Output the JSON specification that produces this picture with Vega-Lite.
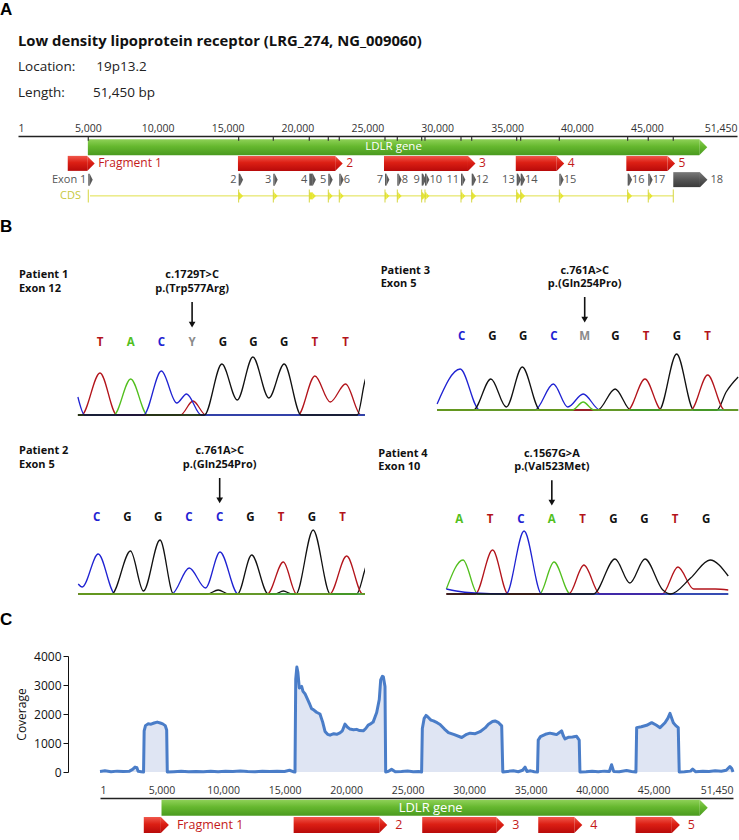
{
"$schema": "https://vega.github.io/schema/vega-lite/v6.json",
"padding": 0,
"background": "white",
"config": {"view": {"stroke": null}, "font": "Open Sans", "axis": {"labelFont": "Open Sans", "titleFont": "Open Sans", "grid": false}, "title": {"anchor": "start", "frame": "group"}},
"title": {"text": "A", "font": "Liberation Sans", "fontSize": 17, "fontWeight": "bold", "color": "#000", "offset": 15, "dx": -18},
"spacing": 12,
"datasets": {
"features": [
{"track":"gene","name":"LDLR gene","start":5000,"end":48750},
{"track":"fragment","name":"Fragment 1","start":3560,"end":4950},
{"track":"fragment","name":"2","start":15740,"end":22700},
{"track":"fragment","name":"3","start":26190,"end":32200},
{"track":"fragment","name":"4","start":35620,"end":38550},
{"track":"fragment","name":"5","start":43530,"end":46480},
{"track":"cds","name":"CDS","start":5150,"end":46890}
],
"exons": [
{"n":"1","label":"Exon 1","start":5030,"end":5130,"side":"L"},
{"n":"2","label":"2","start":15790,"end":15890,"side":"L"},
{"n":"3","label":"3","start":18270,"end":18370,"side":"L"},
{"n":"4","label":"4","start":20845,"end":21100,"side":"L"},
{"n":"5","label":"5","start":22205,"end":22305,"side":"L"},
{"n":"6","label":"6","start":22990,"end":23090,"side":"R"},
{"n":"7","label":"7","start":26262,"end":26362,"side":"L"},
{"n":"8","label":"8","start":27143,"end":27243,"side":"R"},
{"n":"9","label":"9","start":28887,"end":28987,"side":"L"},
{"n":"10","label":"10","start":29123,"end":29223,"side":"R"},
{"n":"11","label":"11","start":31700,"end":31800,"side":"L"},
{"n":"12","label":"12","start":32465,"end":32565,"side":"R"},
{"n":"13","label":"13","start":35685,"end":35785,"side":"L"},
{"n":"14","label":"14","start":35970,"end":36070,"side":"R"},
{"n":"15","label":"15","start":38735,"end":38835,"side":"R"},
{"n":"16","label":"16","start":43625,"end":43725,"side":"R"},
{"n":"17","label":"17","start":45100,"end":45200,"side":"R"},
{"n":"18","label":"18","start":46890,"end":48800,"side":"U"}
],
"coverage": [
{"pos":1,"cov":20},{"pos":400,"cov":40},{"pos":900,"cov":10},{"pos":1400,"cov":30},{"pos":1900,"cov":15},{"pos":2400,"cov":30},{"pos":2650,"cov":90},{"pos":2850,"cov":170},{"pos":3000,"cov":150},{"pos":3100,"cov":25},{"pos":3350,"cov":10},{"pos":3540,"cov":0},{"pos":3590,"cov":1420},{"pos":3700,"cov":1600},{"pos":3900,"cov":1660},{"pos":4150,"cov":1650},{"pos":4400,"cov":1690},{"pos":4650,"cov":1720},{"pos":4900,"cov":1690},{"pos":5100,"cov":1660},{"pos":5300,"cov":1600},{"pos":5420,"cov":1450},{"pos":5470,"cov":0},
{"pos":6000,"cov":10},{"pos":6600,"cov":25},{"pos":7200,"cov":5},{"pos":7800,"cov":20},{"pos":8400,"cov":10},{"pos":9000,"cov":30},{"pos":9600,"cov":10},{"pos":10200,"cov":25},{"pos":10800,"cov":15},{"pos":11400,"cov":35},{"pos":12000,"cov":15},{"pos":12600,"cov":10},{"pos":13200,"cov":25},{"pos":13800,"cov":15},{"pos":14400,"cov":30},{"pos":15000,"cov":20},{"pos":15400,"cov":60},{"pos":15700,"cov":10},{"pos":15850,"cov":0},
{"pos":15910,"cov":3200},{"pos":16000,"cov":3620},{"pos":16080,"cov":3450},{"pos":16200,"cov":2900},{"pos":16390,"cov":2950},{"pos":16500,"cov":2780},{"pos":16660,"cov":2700},{"pos":16900,"cov":2480},{"pos":17065,"cov":2320},{"pos":17200,"cov":2180},{"pos":17340,"cov":2150},{"pos":17600,"cov":2060},{"pos":17880,"cov":2000},{"pos":18100,"cov":1720},{"pos":18290,"cov":1400},{"pos":18500,"cov":1300},{"pos":18700,"cov":1270},{"pos":19000,"cov":1320},{"pos":19240,"cov":1300},{"pos":19500,"cov":1350},{"pos":19700,"cov":1420},{"pos":19915,"cov":1650},{"pos":20100,"cov":1550},{"pos":20320,"cov":1480},{"pos":20600,"cov":1460},{"pos":20860,"cov":1470},{"pos":21100,"cov":1430},{"pos":21400,"cov":1420},{"pos":21600,"cov":1500},{"pos":21800,"cov":1620},{"pos":21950,"cov":1650},{"pos":22200,"cov":1720},{"pos":22490,"cov":2050},{"pos":22700,"cov":2500},{"pos":22815,"cov":3180},{"pos":22950,"cov":3300},{"pos":23030,"cov":3280},{"pos":23165,"cov":2950},{"pos":23220,"cov":0},
{"pos":23450,"cov":25},{"pos":23700,"cov":90},{"pos":24000,"cov":10},{"pos":24500,"cov":20},{"pos":25000,"cov":35},{"pos":25460,"cov":10},{"pos":25900,"cov":20},{"pos":26140,"cov":0},
{"pos":26200,"cov":1500},{"pos":26350,"cov":1850},{"pos":26500,"cov":1950},{"pos":26690,"cov":1880},{"pos":26900,"cov":1790},{"pos":27100,"cov":1760},{"pos":27400,"cov":1700},{"pos":27640,"cov":1640},{"pos":28000,"cov":1480},{"pos":28320,"cov":1360},{"pos":28800,"cov":1290},{"pos":29400,"cov":1190},{"pos":29800,"cov":1300},{"pos":30080,"cov":1340},{"pos":30500,"cov":1320},{"pos":30890,"cov":1390},{"pos":31300,"cov":1520},{"pos":31570,"cov":1650},{"pos":31900,"cov":1740},{"pos":32110,"cov":1760},{"pos":32400,"cov":1700},{"pos":32650,"cov":1590},{"pos":32740,"cov":0},
{"pos":33100,"cov":20},{"pos":33600,"cov":40},{"pos":34000,"cov":10},{"pos":34350,"cov":60},{"pos":34550,"cov":170},{"pos":34700,"cov":20},{"pos":35000,"cov":40},{"pos":35300,"cov":10},{"pos":35560,"cov":0},
{"pos":35620,"cov":1100},{"pos":35800,"cov":1220},{"pos":36200,"cov":1300},{"pos":36570,"cov":1340},{"pos":36900,"cov":1310},{"pos":37110,"cov":1290},{"pos":37400,"cov":1380},{"pos":37520,"cov":1420},{"pos":37650,"cov":1260},{"pos":37790,"cov":1140},{"pos":38100,"cov":1200},{"pos":38400,"cov":1210},{"pos":38740,"cov":1230},{"pos":38950,"cov":1100},{"pos":39010,"cov":0},
{"pos":39500,"cov":10},{"pos":40000,"cov":25},{"pos":40500,"cov":5},{"pos":41000,"cov":30},{"pos":41400,"cov":20},{"pos":41580,"cov":250},{"pos":41750,"cov":20},{"pos":42200,"cov":10},{"pos":42800,"cov":50},{"pos":43200,"cov":20},{"pos":43560,"cov":0},
{"pos":43620,"cov":1530},{"pos":44000,"cov":1560},{"pos":44430,"cov":1610},{"pos":44840,"cov":1700},{"pos":45200,"cov":1620},{"pos":45520,"cov":1530},{"pos":45920,"cov":1700},{"pos":46150,"cov":1850},{"pos":46330,"cov":2020},{"pos":46600,"cov":1700},{"pos":46800,"cov":1600},{"pos":47000,"cov":1530},{"pos":47080,"cov":0},
{"pos":47500,"cov":10},{"pos":48000,"cov":30},{"pos":48170,"cov":100},{"pos":48400,"cov":10},{"pos":49000,"cov":30},{"pos":49500,"cov":15},{"pos":50000,"cov":40},{"pos":50500,"cov":25},{"pos":50900,"cov":60},{"pos":51200,"cov":190},{"pos":51350,"cov":120},{"pos":51450,"cov":0}
],
"traces": [
{"p":"P1","b":"T","x":-0.72,"v":0},{"p":"P1","b":"T","x":-0.6,"v":0},{"p":"P1","b":"T","x":0,"v":420},{"p":"P1","b":"T","x":0.55,"v":0},{"p":"P1","b":"T","x":2.62,"v":0},{"p":"P1","b":"T","x":3.03,"v":140},{"p":"P1","b":"T","x":3.45,"v":0},{"p":"P1","b":"T","x":6.45,"v":0},{"p":"P1","b":"T","x":7,"v":390},{"p":"P1","b":"T","x":7.5,"v":130},{"p":"P1","b":"T","x":8,"v":310},{"p":"P1","b":"T","x":8.5,"v":0},{"p":"P1","b":"T","x":8.63,"v":0},
{"p":"P1","b":"A","x":-0.72,"v":0},{"p":"P1","b":"A","x":0.45,"v":0},{"p":"P1","b":"A","x":1,"v":360},{"p":"P1","b":"A","x":1.55,"v":0},{"p":"P1","b":"A","x":8.63,"v":0},
{"p":"P1","b":"C","x":-0.72,"v":180},{"p":"P1","b":"C","x":-0.5,"v":0},{"p":"P1","b":"C","x":1.42,"v":0},{"p":"P1","b":"C","x":2,"v":440},{"p":"P1","b":"C","x":2.5,"v":120},{"p":"P1","b":"C","x":2.82,"v":210},{"p":"P1","b":"C","x":3.3,"v":0},{"p":"P1","b":"C","x":8.63,"v":0},
{"p":"P1","b":"G","x":-0.72,"v":0},{"p":"P1","b":"G","x":3.4,"v":0},{"p":"P1","b":"G","x":3.97,"v":510},{"p":"P1","b":"G","x":4.47,"v":150},{"p":"P1","b":"G","x":4.98,"v":580},{"p":"P1","b":"G","x":5.5,"v":170},{"p":"P1","b":"G","x":6,"v":510},{"p":"P1","b":"G","x":6.55,"v":0},{"p":"P1","b":"G","x":8.38,"v":0},{"p":"P1","b":"G","x":8.63,"v":340},{"p":"P1","b":"G","x":8.8,"v":480},
{"p":"P3","b":"C","x":-0.8,"v":60},{"p":"P3","b":"C","x":-0.05,"v":410},{"p":"P3","b":"C","x":0.58,"v":0},{"p":"P3","b":"C","x":2.38,"v":0},{"p":"P3","b":"C","x":2.98,"v":260},{"p":"P3","b":"C","x":3.45,"v":30},{"p":"P3","b":"C","x":3.95,"v":160},{"p":"P3","b":"C","x":4.5,"v":0},{"p":"P3","b":"C","x":8.99,"v":0},
{"p":"P3","b":"G","x":-0.8,"v":0},{"p":"P3","b":"G","x":0.38,"v":0},{"p":"P3","b":"G","x":0.95,"v":310},{"p":"P3","b":"G","x":1.45,"v":30},{"p":"P3","b":"G","x":1.97,"v":430},{"p":"P3","b":"G","x":2.55,"v":0},{"p":"P3","b":"G","x":4.42,"v":0},{"p":"P3","b":"G","x":4.99,"v":210},{"p":"P3","b":"G","x":5.5,"v":0},{"p":"P3","b":"G","x":6.42,"v":0},{"p":"P3","b":"G","x":6.99,"v":560},{"p":"P3","b":"G","x":7.55,"v":0},{"p":"P3","b":"G","x":8.3,"v":0},{"p":"P3","b":"G","x":8.6,"v":180},{"p":"P3","b":"G","x":8.99,"v":330},
{"p":"P3","b":"T","x":-0.8,"v":0},{"p":"P3","b":"T","x":5.4,"v":0},{"p":"P3","b":"T","x":5.96,"v":310},{"p":"P3","b":"T","x":6.5,"v":0},{"p":"P3","b":"T","x":7.45,"v":0},{"p":"P3","b":"T","x":8,"v":350},{"p":"P3","b":"T","x":8.55,"v":0},{"p":"P3","b":"T","x":8.99,"v":0},
{"p":"P3","b":"A","x":-0.8,"v":0},{"p":"P3","b":"A","x":3.6,"v":0},{"p":"P3","b":"A","x":3.95,"v":80},{"p":"P3","b":"A","x":4.3,"v":0},{"p":"P3","b":"A","x":8.99,"v":0},
{"p":"P2","b":"C","x":-0.6,"v":100},{"p":"P2","b":"C","x":-0.47,"v":70},{"p":"P2","b":"C","x":0.05,"v":400},{"p":"P2","b":"C","x":0.6,"v":0},{"p":"P2","b":"C","x":2.44,"v":0},{"p":"P2","b":"C","x":3.01,"v":260},{"p":"P2","b":"C","x":3.54,"v":60},{"p":"P2","b":"C","x":4.01,"v":420},{"p":"P2","b":"C","x":4.6,"v":0},{"p":"P2","b":"C","x":8.73,"v":0},
{"p":"P2","b":"G","x":-0.6,"v":0},{"p":"P2","b":"G","x":0.49,"v":0},{"p":"P2","b":"G","x":1.1,"v":430},{"p":"P2","b":"G","x":1.52,"v":30},{"p":"P2","b":"G","x":2.06,"v":540},{"p":"P2","b":"G","x":2.5,"v":0},{"p":"P2","b":"G","x":3.6,"v":0},{"p":"P2","b":"G","x":3.95,"v":40},{"p":"P2","b":"G","x":4.3,"v":0},{"p":"P2","b":"G","x":4.58,"v":0},{"p":"P2","b":"G","x":5.04,"v":390},{"p":"P2","b":"G","x":5.58,"v":0},{"p":"P2","b":"G","x":5.8,"v":0},{"p":"P2","b":"G","x":6.07,"v":30},{"p":"P2","b":"G","x":6.35,"v":0},{"p":"P2","b":"G","x":6.48,"v":0},{"p":"P2","b":"G","x":7.04,"v":640},{"p":"P2","b":"G","x":7.6,"v":0},{"p":"P2","b":"G","x":8.45,"v":0},{"p":"P2","b":"G","x":8.73,"v":250},{"p":"P2","b":"G","x":8.9,"v":420},
{"p":"P2","b":"T","x":-0.6,"v":0},{"p":"P2","b":"T","x":5.55,"v":0},{"p":"P2","b":"T","x":6.07,"v":320},{"p":"P2","b":"T","x":6.5,"v":0},{"p":"P2","b":"T","x":7.58,"v":0},{"p":"P2","b":"T","x":8.13,"v":380},{"p":"P2","b":"T","x":8.65,"v":0},{"p":"P2","b":"T","x":8.73,"v":0},
{"p":"P2","b":"A","x":-0.6,"v":0},{"p":"P2","b":"A","x":8.73,"v":0},
{"p":"P4","b":"A","x":-0.42,"v":50},{"p":"P4","b":"A","x":0.12,"v":340},{"p":"P4","b":"A","x":0.6,"v":0},{"p":"P4","b":"A","x":2.6,"v":0},{"p":"P4","b":"A","x":3.07,"v":320},{"p":"P4","b":"A","x":3.6,"v":0},{"p":"P4","b":"A","x":8.72,"v":0},
{"p":"P4","b":"T","x":-0.42,"v":0},{"p":"P4","b":"T","x":0.52,"v":0},{"p":"P4","b":"T","x":1.08,"v":440},{"p":"P4","b":"T","x":1.58,"v":0},{"p":"P4","b":"T","x":3.55,"v":0},{"p":"P4","b":"T","x":4.04,"v":290},{"p":"P4","b":"T","x":4.56,"v":0},{"p":"P4","b":"T","x":6.58,"v":0},{"p":"P4","b":"T","x":7.09,"v":270},{"p":"P4","b":"T","x":7.6,"v":50},{"p":"P4","b":"T","x":8.3,"v":50},{"p":"P4","b":"T","x":8.72,"v":40},
{"p":"P4","b":"C","x":-0.42,"v":50},{"p":"P4","b":"C","x":-0.1,"v":30},{"p":"P4","b":"C","x":0.5,"v":10},{"p":"P4","b":"C","x":1.52,"v":0},{"p":"P4","b":"C","x":2.1,"v":630},{"p":"P4","b":"C","x":2.67,"v":0},{"p":"P4","b":"C","x":8.72,"v":0},
{"p":"P4","b":"G","x":-0.42,"v":0},{"p":"P4","b":"G","x":4.35,"v":0},{"p":"P4","b":"G","x":5.05,"v":350},{"p":"P4","b":"G","x":5.53,"v":110},{"p":"P4","b":"G","x":6.02,"v":350},{"p":"P4","b":"G","x":6.6,"v":40},{"p":"P4","b":"G","x":6.85,"v":0},{"p":"P4","b":"G","x":7.5,"v":160},{"p":"P4","b":"G","x":8.13,"v":340},{"p":"P4","b":"G","x":8.72,"v":180}
],
"calls": [
{"p":"P1","i":0,"b":"T"},{"p":"P1","i":1,"b":"A"},{"p":"P1","i":2,"b":"C"},{"p":"P1","i":3,"b":"Y"},{"p":"P1","i":4,"b":"G"},{"p":"P1","i":5,"b":"G"},{"p":"P1","i":6,"b":"G"},{"p":"P1","i":7,"b":"T"},{"p":"P1","i":8,"b":"T"},
{"p":"P3","i":0,"b":"C"},{"p":"P3","i":1,"b":"G"},{"p":"P3","i":2,"b":"G"},{"p":"P3","i":3,"b":"C"},{"p":"P3","i":4,"b":"M"},{"p":"P3","i":5,"b":"G"},{"p":"P3","i":6,"b":"T"},{"p":"P3","i":7,"b":"G"},{"p":"P3","i":8,"b":"T"},
{"p":"P2","i":0,"b":"C"},{"p":"P2","i":1,"b":"G"},{"p":"P2","i":2,"b":"G"},{"p":"P2","i":3,"b":"C"},{"p":"P2","i":4,"b":"C"},{"p":"P2","i":5,"b":"G"},{"p":"P2","i":6,"b":"T"},{"p":"P2","i":7,"b":"G"},{"p":"P2","i":8,"b":"T"},
{"p":"P4","i":0,"b":"A"},{"p":"P4","i":1,"b":"T"},{"p":"P4","i":2,"b":"C"},{"p":"P4","i":3,"b":"A"},{"p":"P4","i":4,"b":"T"},{"p":"P4","i":5,"b":"G"},{"p":"P4","i":6,"b":"G"},{"p":"P4","i":7,"b":"T"},{"p":"P4","i":8,"b":"G"}
],
"notes": [
{"p":"P1","who":"Patient 1\nExon 12","change":"c.1729T>C\np.(Trp577Arg)","at":3},
{"p":"P3","who":"Patient 3\nExon 5","change":"c.761A>C\np.(Gln254Pro)","at":4},
{"p":"P2","who":"Patient 2\nExon 5","change":"c.761A>C\np.(Gln254Pro)","at":4},
{"p":"P4","who":"Patient 4\nExon 10","change":"c.1567G>A\np.(Val523Met)","at":3}
]
},
"vconcat": [
{
"width": 719, "height": 70,
"title": {"text": "Low density lipoprotein receptor (LRG_274, NG_009060)", "subtitle": ["Location:\u00a0\u00a0\u00a0\u00a0\u00a0\u00a019p13.2", "Length:\u00a0\u00a0\u00a0\u00a0\u00a0\u00a0\u00a0\u00a051,450 bp"], "font": "Open Sans", "fontSize": 14.8, "fontWeight": "bold", "color": "#111", "subtitleFont": "Open Sans", "subtitleFontSize": 13.5, "subtitleColor": "#222", "subtitleLineHeight": 26, "subtitlePadding": 11, "offset": 24},
"layer": [
{"data": {"name": "features"}, "transform": [{"filter": "datum.track == 'gene'"}],
 "mark": {"type": "bar", "size": 16, "color": {"gradient": "linear", "x1": 0, "y1": 0, "x2": 0, "y2": 1, "stops": [{"offset": 0, "color": "#8fd158"}, {"offset": 0.45, "color": "#66b82f"}, {"offset": 1, "color": "#4a9a1f"}]}},
 "encoding": {
  "x": {"field": "start", "type": "quantitative", "scale": {"domain": [1, 51450], "nice": false, "zero": false}, "axis": {"orient": "top", "values": [1,5000,10000,15000,20000,25000,30000,35000,40000,45000,51450], "format": ",d", "labelFlush": true, "ticks": false, "domainColor": "#222", "domainWidth": 1.3, "labelFontSize": 10.5, "labelColor": "#333", "labelPadding": 3, "title": null, "labelOverlap": false}},
  "x2": {"field": "end"},
  "y": {"field": "track", "type": "nominal", "scale": {"type": "band", "domain": ["gene","fragment","exon","cds"], "range": [3, 68], "paddingInner": 0, "paddingOuter": 0}, "axis": null}
 }},
{"data": {"name": "features"}, "transform": [{"filter": "datum.track == 'gene'"}],
 "mark": {"type": "point", "shape": "M0,-1L1,0L0,1Z", "size": 256, "filled": true, "opacity": 1, "strokeWidth": 0, "color": {"gradient": "linear", "x1": 0, "y1": 0, "x2": 0, "y2": 1, "stops": [{"offset": 0, "color": "#8fd158"}, {"offset": 0.45, "color": "#66b82f"}, {"offset": 1, "color": "#4a9a1f"}]}},
 "encoding": {"x": {"field": "end", "type": "quantitative"}, "y": {"field": "track", "type": "nominal"}}},
{"data": {"name": "features"}, "transform": [{"filter": "datum.track == 'gene'"}, {"calculate": "(datum.start + datum.end) / 2", "as": "mid"}],
 "mark": {"type": "text", "color": "white", "fontSize": 11.5},
 "encoding": {"x": {"field": "mid", "type": "quantitative"}, "y": {"field": "track", "type": "nominal"}, "text": {"field": "name"}}},
{"data": {"name": "exons"},
 "mark": {"type": "tick", "orient": "vertical", "size": 4, "thickness": 1.2, "color": "#333333", "opacity": 1, "yOffset": -8.5},
 "encoding": {"x": {"field": "start", "type": "quantitative"}, "y": {"datum": "gene", "type": "nominal"}}},
{"data": {"name": "features"}, "transform": [{"filter": "datum.track == 'fragment'"}],
 "mark": {"type": "bar", "size": 15, "color": {"gradient": "linear", "x1": 0, "y1": 0, "x2": 0, "y2": 1, "stops": [{"offset": 0, "color": "#f0584c"}, {"offset": 0.45, "color": "#dc1f14"}, {"offset": 1, "color": "#b80a0a"}]}},
 "encoding": {"x": {"field": "start", "type": "quantitative"}, "x2": {"field": "end"}, "y": {"field": "track", "type": "nominal"}}},
{"data": {"name": "features"}, "transform": [{"filter": "datum.track == 'fragment'"}],
 "mark": {"type": "point", "shape": "M0,-1L1,0L0,1Z", "size": 225, "filled": true, "opacity": 1, "strokeWidth": 0, "color": {"gradient": "linear", "x1": 0, "y1": 0, "x2": 0, "y2": 1, "stops": [{"offset": 0, "color": "#f0584c"}, {"offset": 0.45, "color": "#dc1f14"}, {"offset": 1, "color": "#b80a0a"}]}},
 "encoding": {"x": {"field": "end", "type": "quantitative"}, "y": {"field": "track", "type": "nominal"}}},
{"data": {"name": "features"}, "transform": [{"filter": "datum.track == 'fragment'"}],
 "mark": {"type": "text", "align": "left", "dx": 11, "color": "#c41a1a", "fontSize": 12},
 "encoding": {"x": {"field": "end", "type": "quantitative"}, "y": {"field": "track", "type": "nominal"}, "text": {"field": "name"}}},
{"data": {"name": "features"}, "transform": [{"filter": "datum.track == 'cds'"}],
 "mark": {"type": "rule", "color": "#e0e048", "strokeWidth": 1},
 "encoding": {"x": {"field": "start", "type": "quantitative"}, "x2": {"field": "end"}, "y": {"field": "track", "type": "nominal"}}},
{"data": {"name": "features"}, "transform": [{"filter": "datum.track == 'cds'"}],
 "mark": {"type": "text", "align": "right", "dx": -9, "color": "#c8c83c", "fontSize": 11},
 "encoding": {"x": {"field": "start", "type": "quantitative"}, "y": {"field": "track", "type": "nominal"}, "text": {"field": "name"}}},
{"data": {"name": "exons"}, "transform": [{"filter": "datum.n != '1' && datum.n != '18'"}],
 "mark": {"type": "bar", "size": 7, "color": "#e6e630"},
 "encoding": {"x": {"field": "start", "type": "quantitative"}, "x2": {"field": "end"}, "y": {"datum": "cds", "type": "nominal"}}},
{"data": {"name": "exons"}, "transform": [{"filter": "datum.n != '1' && datum.n != '18'"}],
 "mark": {"type": "point", "shape": "M0,-1L1,0L0,1Z", "size": 36, "filled": true, "opacity": 1, "strokeWidth": 0, "color": "#e6e630"},
 "encoding": {"x": {"field": "end", "type": "quantitative"}, "y": {"datum": "cds", "type": "nominal"}}},
{"data": {"name": "exons"},
 "mark": {"type": "tick", "orient": "vertical", "size": 13, "thickness": 1, "color": "#d6d640", "opacity": 1},
 "encoding": {"x": {"field": "start", "type": "quantitative"}, "y": {"datum": "cds", "type": "nominal"}}},
{"data": {"name": "exons"}, "transform": [{"filter": "datum.side != 'U'"}],
 "mark": {"type": "bar", "size": 12, "color": "#5c5c5c"},
 "encoding": {"x": {"field": "start", "type": "quantitative"}, "x2": {"field": "end"}, "y": {"datum": "exon", "type": "nominal"}}},
{"data": {"name": "exons"}, "transform": [{"filter": "datum.side != 'U'"}],
 "mark": {"type": "point", "shape": "M0,-1L0.5,0L0,1Z", "size": 144, "filled": true, "opacity": 1, "strokeWidth": 0, "color": "#5c5c5c"},
 "encoding": {"x": {"field": "end", "type": "quantitative"}, "y": {"datum": "exon", "type": "nominal"}}},
{"data": {"name": "exons"}, "transform": [{"filter": "datum.side == 'U'"}],
 "mark": {"type": "bar", "size": 15, "color": {"gradient": "linear", "x1": 0, "y1": 0, "x2": 0, "y2": 1, "stops": [{"offset": 0, "color": "#7a7a7a"}, {"offset": 0.5, "color": "#555555"}, {"offset": 1, "color": "#3a3a3a"}]}},
 "encoding": {"x": {"field": "start", "type": "quantitative"}, "x2": {"field": "end"}, "y": {"datum": "exon", "type": "nominal"}}},
{"data": {"name": "exons"}, "transform": [{"filter": "datum.side == 'U'"}],
 "mark": {"type": "point", "shape": "M0,-1L1,0L0,1Z", "size": 225, "filled": true, "opacity": 1, "strokeWidth": 0, "color": {"gradient": "linear", "x1": 0, "y1": 0, "x2": 0, "y2": 1, "stops": [{"offset": 0, "color": "#7a7a7a"}, {"offset": 0.5, "color": "#555555"}, {"offset": 1, "color": "#3a3a3a"}]}},
 "encoding": {"x": {"field": "end", "type": "quantitative"}, "y": {"datum": "exon", "type": "nominal"}}},
{"data": {"name": "exons"}, "transform": [{"filter": "datum.side == 'L'"}],
 "mark": {"type": "text", "align": "right", "dx": -2, "color": "#555555", "fontSize": 11},
 "encoding": {"x": {"field": "start", "type": "quantitative"}, "y": {"datum": "exon", "type": "nominal"}, "text": {"field": "label"}}},
{"data": {"name": "exons"}, "transform": [{"filter": "datum.side == 'R'"}],
 "mark": {"type": "text", "align": "left", "dx": 3, "color": "#555555", "fontSize": 11},
 "encoding": {"x": {"field": "end", "type": "quantitative"}, "y": {"datum": "exon", "type": "nominal"}, "text": {"field": "label"}}},
{"data": {"name": "exons"}, "transform": [{"filter": "datum.side == 'U'"}],
 "mark": {"type": "text", "align": "left", "dx": 10.5, "color": "#555555", "fontSize": 11},
 "encoding": {"x": {"field": "end", "type": "quantitative"}, "y": {"datum": "exon", "type": "nominal"}, "text": {"field": "label"}}}
]
},
{
"title": {"text": "B", "font": "Liberation Sans", "fontSize": 17, "fontWeight": "bold", "color": "#000", "offset": 28, "dx": -18},
"spacing": 25,
"vconcat": [
{"spacing": 0, "hconcat": [
{"width": 347, "height": 153,
 "layer": [
  {"data": {"name": "traces"}, "transform": [{"filter": "datum.p == 'P1'"}],
   "mark": {"type": "line", "interpolate": "monotone", "strokeWidth": 1.3, "clip": true},
   "encoding": {"x": {"field": "x", "type": "quantitative", "scale": {"domain": [-2.671, 8.632], "nice": false, "zero": false}, "axis": null},
    "y": {"field": "v", "type": "quantitative", "scale": {"domain": [-20, 1510], "nice": false, "zero": false}, "axis": null},
    "color": {"field": "b", "type": "nominal", "scale": {"domain": ["A","C","G","T","Y","M"], "range": ["#52bf1e","#1f22d2","#111111","#b3141b","#8a8a8a","#8a8a8a"]}, "legend": null}}},
  {"data": {"name": "calls"}, "transform": [{"filter": "datum.p == 'P1'"}],
   "mark": {"type": "text", "fontWeight": "bold", "fontSize": 11.5},
   "encoding": {"x": {"field": "i", "type": "quantitative"}, "y": {"datum": 723}, "text": {"field": "b"}, "color": {"field": "b", "type": "nominal"}}},
  {"data": {"name": "notes"}, "transform": [{"filter": "datum.p == 'P1'"}],
   "mark": {"type": "text", "fontWeight": "bold", "fontSize": 11, "align": "left", "baseline": "middle", "lineBreak": "\n", "lineHeight": 13.4, "color": "#111"},
   "encoding": {"x": {"datum": -2.64}, "y": {"datum": 1397}, "text": {"field": "who"}}},
  {"data": {"name": "notes"}, "transform": [{"filter": "datum.p == 'P1'"}],
   "mark": {"type": "text", "fontWeight": "bold", "fontSize": 11, "align": "center", "baseline": "middle", "lineBreak": "\n", "lineHeight": 13.4, "color": "#111"},
   "encoding": {"x": {"field": "at", "type": "quantitative"}, "y": {"datum": 1397}, "text": {"field": "change"}}},
  {"data": {"name": "notes"}, "transform": [{"filter": "datum.p == 'P1'"}],
   "mark": {"type": "rule", "strokeWidth": 1.6, "color": "#111"},
   "encoding": {"x": {"field": "at", "type": "quantitative"}, "y": {"datum": 1130}, "y2": {"datum": 904}}},
  {"data": {"name": "notes"}, "transform": [{"filter": "datum.p == 'P1'"}],
   "mark": {"type": "point", "shape": "triangle-down", "size": 45, "filled": true, "opacity": 1, "color": "#111"},
   "encoding": {"x": {"field": "at", "type": "quantitative"}, "y": {"datum": 904}}}
 ]},
{"width": 374, "height": 153,
 "layer": [
  {"data": {"name": "traces"}, "transform": [{"filter": "datum.p == 'P3'"}],
   "mark": {"type": "line", "interpolate": "monotone", "strokeWidth": 1.3, "clip": true},
   "encoding": {"x": {"field": "x", "type": "quantitative", "scale": {"domain": [-3.145, 9.018], "nice": false, "zero": false}, "axis": null},
    "y": {"field": "v", "type": "quantitative", "scale": {"domain": [-70, 1460], "nice": false, "zero": false}, "axis": null},
    "color": {"field": "b", "type": "nominal", "scale": {"domain": ["A","C","G","T","Y","M"], "range": ["#52bf1e","#1f22d2","#111111","#b3141b","#8a8a8a","#8a8a8a"]}, "legend": null}}},
  {"data": {"name": "calls"}, "transform": [{"filter": "datum.p == 'P3'"}],
   "mark": {"type": "text", "fontWeight": "bold", "fontSize": 11.5},
   "encoding": {"x": {"field": "i", "type": "quantitative"}, "y": {"datum": 730}, "text": {"field": "b"}, "color": {"field": "b", "type": "nominal"}}},
  {"data": {"name": "notes"}, "transform": [{"filter": "datum.p == 'P3'"}],
   "mark": {"type": "text", "fontWeight": "bold", "fontSize": 11, "align": "left", "baseline": "middle", "lineBreak": "\n", "lineHeight": 13.4, "color": "#111"},
   "encoding": {"x": {"datum": -2.634}, "y": {"datum": 1390}, "text": {"field": "who"}}},
  {"data": {"name": "notes"}, "transform": [{"filter": "datum.p == 'P3'"}],
   "mark": {"type": "text", "fontWeight": "bold", "fontSize": 11, "align": "center", "baseline": "middle", "lineBreak": "\n", "lineHeight": 13.4, "color": "#111"},
   "encoding": {"x": {"field": "at", "type": "quantitative"}, "y": {"datum": 1390}, "text": {"field": "change"}}},
  {"data": {"name": "notes"}, "transform": [{"filter": "datum.p == 'P3'"}],
   "mark": {"type": "rule", "strokeWidth": 1.6, "color": "#111"},
   "encoding": {"x": {"field": "at", "type": "quantitative"}, "y": {"datum": 1130}, "y2": {"datum": 904}}},
  {"data": {"name": "notes"}, "transform": [{"filter": "datum.p == 'P3'"}],
   "mark": {"type": "point", "shape": "triangle-down", "size": 45, "filled": true, "opacity": 1, "color": "#111"},
   "encoding": {"x": {"field": "at", "type": "quantitative"}, "y": {"datum": 904}}}
 ]}
]},
{"spacing": 0, "hconcat": [
{"width": 347, "height": 157,
 "layer": [
  {"data": {"name": "traces"}, "transform": [{"filter": "datum.p == 'P2'"}],
   "mark": {"type": "line", "interpolate": "monotone", "strokeWidth": 1.3, "clip": true},
   "encoding": {"x": {"field": "x", "type": "quantitative", "scale": {"domain": [-2.559, 8.726], "nice": false, "zero": false}, "axis": null},
    "y": {"field": "v", "type": "quantitative", "scale": {"domain": [-50, 1520], "nice": false, "zero": false}, "axis": null},
    "color": {"field": "b", "type": "nominal", "scale": {"domain": ["A","C","G","T","Y","M"], "range": ["#52bf1e","#1f22d2","#111111","#b3141b","#8a8a8a","#8a8a8a"]}, "legend": null}}},
  {"data": {"name": "calls"}, "transform": [{"filter": "datum.p == 'P2'"}],
   "mark": {"type": "text", "fontWeight": "bold", "fontSize": 11.5},
   "encoding": {"x": {"field": "i", "type": "quantitative"}, "y": {"datum": 760}, "text": {"field": "b"}, "color": {"field": "b", "type": "nominal"}}},
  {"data": {"name": "notes"}, "transform": [{"filter": "datum.p == 'P2'"}],
   "mark": {"type": "text", "fontWeight": "bold", "fontSize": 11, "align": "left", "baseline": "middle", "lineBreak": "\n", "lineHeight": 13.4, "color": "#111"},
   "encoding": {"x": {"datum": -2.527}, "y": {"datum": 1427}, "text": {"field": "who"}}},
  {"data": {"name": "notes"}, "transform": [{"filter": "datum.p == 'P2'"}],
   "mark": {"type": "text", "fontWeight": "bold", "fontSize": 11, "align": "center", "baseline": "middle", "lineBreak": "\n", "lineHeight": 13.4, "color": "#111"},
   "encoding": {"x": {"field": "at", "type": "quantitative"}, "y": {"datum": 1427}, "text": {"field": "change"}}},
  {"data": {"name": "notes"}, "transform": [{"filter": "datum.p == 'P2'"}],
   "mark": {"type": "rule", "strokeWidth": 1.6, "color": "#111"},
   "encoding": {"x": {"field": "at", "type": "quantitative"}, "y": {"datum": 1160}, "y2": {"datum": 937}}},
  {"data": {"name": "notes"}, "transform": [{"filter": "datum.p == 'P2'"}],
   "mark": {"type": "point", "shape": "triangle-down", "size": 45, "filled": true, "opacity": 1, "color": "#111"},
   "encoding": {"x": {"field": "at", "type": "quantitative"}, "y": {"datum": 937}}}
 ]},
{"width": 374, "height": 157,
 "layer": [
  {"data": {"name": "traces"}, "transform": [{"filter": "datum.p == 'P4'"}],
   "mark": {"type": "line", "interpolate": "monotone", "strokeWidth": 1.3, "clip": true},
   "encoding": {"x": {"field": "x", "type": "quantitative", "scale": {"domain": [-3.058, 9.069], "nice": false, "zero": false}, "axis": null},
    "y": {"field": "v", "type": "quantitative", "scale": {"domain": [-50, 1520], "nice": false, "zero": false}, "axis": null},
    "color": {"field": "b", "type": "nominal", "scale": {"domain": ["A","C","G","T","Y","M"], "range": ["#52bf1e","#1f22d2","#111111","#b3141b","#8a8a8a","#8a8a8a"]}, "legend": null}}},
  {"data": {"name": "calls"}, "transform": [{"filter": "datum.p == 'P4'"}],
   "mark": {"type": "text", "fontWeight": "bold", "fontSize": 11.5},
   "encoding": {"x": {"field": "i", "type": "quantitative"}, "y": {"datum": 737}, "text": {"field": "b"}, "color": {"field": "b", "type": "nominal"}}},
  {"data": {"name": "notes"}, "transform": [{"filter": "datum.p == 'P4'"}],
   "mark": {"type": "text", "fontWeight": "bold", "fontSize": 11, "align": "left", "baseline": "middle", "lineBreak": "\n", "lineHeight": 13.4, "color": "#111"},
   "encoding": {"x": {"datum": -2.626}, "y": {"datum": 1403}, "text": {"field": "who"}}},
  {"data": {"name": "notes"}, "transform": [{"filter": "datum.p == 'P4'"}],
   "mark": {"type": "text", "fontWeight": "bold", "fontSize": 11, "align": "center", "baseline": "middle", "lineBreak": "\n", "lineHeight": 13.4, "color": "#111"},
   "encoding": {"x": {"field": "at", "type": "quantitative"}, "y": {"datum": 1403}, "text": {"field": "change"}}},
  {"data": {"name": "notes"}, "transform": [{"filter": "datum.p == 'P4'"}],
   "mark": {"type": "rule", "strokeWidth": 1.6, "color": "#111"},
   "encoding": {"x": {"field": "at", "type": "quantitative"}, "y": {"datum": 1137}, "y2": {"datum": 914}}},
  {"data": {"name": "notes"}, "transform": [{"filter": "datum.p == 'P4'"}],
   "mark": {"type": "point", "shape": "triangle-down", "size": 45, "filled": true, "opacity": 1, "color": "#111"},
   "encoding": {"x": {"field": "at", "type": "quantitative"}, "y": {"datum": 914}}}
 ]}
]}
]
},
{
"width": 715, "height": 178,
"title": {"text": "C", "font": "Liberation Sans", "fontSize": 17, "fontWeight": "bold", "color": "#000", "dx": -18, "offset": 21},
"resolve": {"scale": {"y": "independent"}},
"layer": [
{"layer": [
 {"data": {"name": "coverage"},
  "mark": {"type": "area", "color": "#dfe5f3", "opacity": 1},
  "encoding": {
   "x": {"field": "pos", "type": "quantitative", "scale": {"domain": [1, 51450], "range": [82, 715], "nice": false, "zero": false}, "axis": {"orient": "top", "offset": -142, "values": [1,5000,10000,15000,20000,25000,30000,35000,40000,45000,51450], "format": ",d", "labelFlush": true, "ticks": false, "domainColor": "#222", "domainWidth": 1.3, "labelFontSize": 10.5, "labelColor": "#333", "labelPadding": 3, "title": null, "labelOverlap": false}},
   "y": {"field": "cov", "type": "quantitative", "scale": {"domain": [0, 4000], "range": [116, 0], "nice": false}, "axis": {"orient": "left", "offset": -50, "values": [0,1000,2000,3000,4000], "format": "d", "title": "Coverage", "titleFontSize": 12, "titleFontWeight": "normal", "titleColor": "#111", "labelFontSize": 12, "labelColor": "#111", "tickSize": 5, "tickColor": "#111", "domainColor": "#111", "titlePadding": 5, "labelPadding": 2}}
  }},
 {"data": {"name": "coverage"},
  "mark": {"type": "line", "color": "#4a7dc8", "strokeWidth": 3, "strokeJoin": "round"},
  "encoding": {"x": {"field": "pos", "type": "quantitative"}, "y": {"field": "cov", "type": "quantitative"}}}
]},
{"layer": [
 {"data": {"name": "features"}, "transform": [{"filter": "datum.track == 'gene'"}],
  "mark": {"type": "bar", "size": 16, "color": {"gradient": "linear", "x1": 0, "y1": 0, "x2": 0, "y2": 1, "stops": [{"offset": 0, "color": "#8fd158"}, {"offset": 0.45, "color": "#66b82f"}, {"offset": 1, "color": "#4a9a1f"}]}},
  "encoding": {"x": {"field": "start", "type": "quantitative"}, "x2": {"field": "end"},
   "y": {"field": "track", "type": "nominal", "scale": {"type": "band", "domain": ["gene","fragment"], "range": [143.2, 177.6], "paddingInner": 0, "paddingOuter": 0}, "axis": null}}},
 {"data": {"name": "features"}, "transform": [{"filter": "datum.track == 'gene'"}],
  "mark": {"type": "point", "shape": "M0,-1L1,0L0,1Z", "size": 256, "filled": true, "opacity": 1, "strokeWidth": 0, "color": {"gradient": "linear", "x1": 0, "y1": 0, "x2": 0, "y2": 1, "stops": [{"offset": 0, "color": "#8fd158"}, {"offset": 0.45, "color": "#66b82f"}, {"offset": 1, "color": "#4a9a1f"}]}},
  "encoding": {"x": {"field": "end", "type": "quantitative"}, "y": {"field": "track", "type": "nominal", "axis": null}}},
 {"data": {"name": "features"}, "transform": [{"filter": "datum.track == 'gene'"}, {"calculate": "(datum.start + datum.end) / 2", "as": "mid"}],
  "mark": {"type": "text", "color": "white", "fontSize": 13},
  "encoding": {"x": {"field": "mid", "type": "quantitative"}, "y": {"field": "track", "type": "nominal", "axis": null}, "text": {"field": "name"}}},
 {"data": {"name": "features"}, "transform": [{"filter": "datum.track == 'fragment'"}],
  "mark": {"type": "bar", "size": 16, "color": {"gradient": "linear", "x1": 0, "y1": 0, "x2": 0, "y2": 1, "stops": [{"offset": 0, "color": "#f0584c"}, {"offset": 0.45, "color": "#dc1f14"}, {"offset": 1, "color": "#b80a0a"}]}},
  "encoding": {"x": {"field": "start", "type": "quantitative"}, "x2": {"field": "end"}, "y": {"field": "track", "type": "nominal", "axis": null}}},
 {"data": {"name": "features"}, "transform": [{"filter": "datum.track == 'fragment'"}],
  "mark": {"type": "point", "shape": "M0,-1L1,0L0,1Z", "size": 256, "filled": true, "opacity": 1, "strokeWidth": 0, "color": {"gradient": "linear", "x1": 0, "y1": 0, "x2": 0, "y2": 1, "stops": [{"offset": 0, "color": "#f0584c"}, {"offset": 0.45, "color": "#dc1f14"}, {"offset": 1, "color": "#b80a0a"}]}},
  "encoding": {"x": {"field": "end", "type": "quantitative"}, "y": {"field": "track", "type": "nominal", "axis": null}}},
 {"data": {"name": "features"}, "transform": [{"filter": "datum.track == 'fragment'"}],
  "mark": {"type": "text", "align": "left", "dx": 16, "color": "#c41a1a", "fontSize": 12.5},
  "encoding": {"x": {"field": "end", "type": "quantitative"}, "y": {"field": "track", "type": "nominal", "axis": null}, "text": {"field": "name"}}}
]}
]
}
]
}
